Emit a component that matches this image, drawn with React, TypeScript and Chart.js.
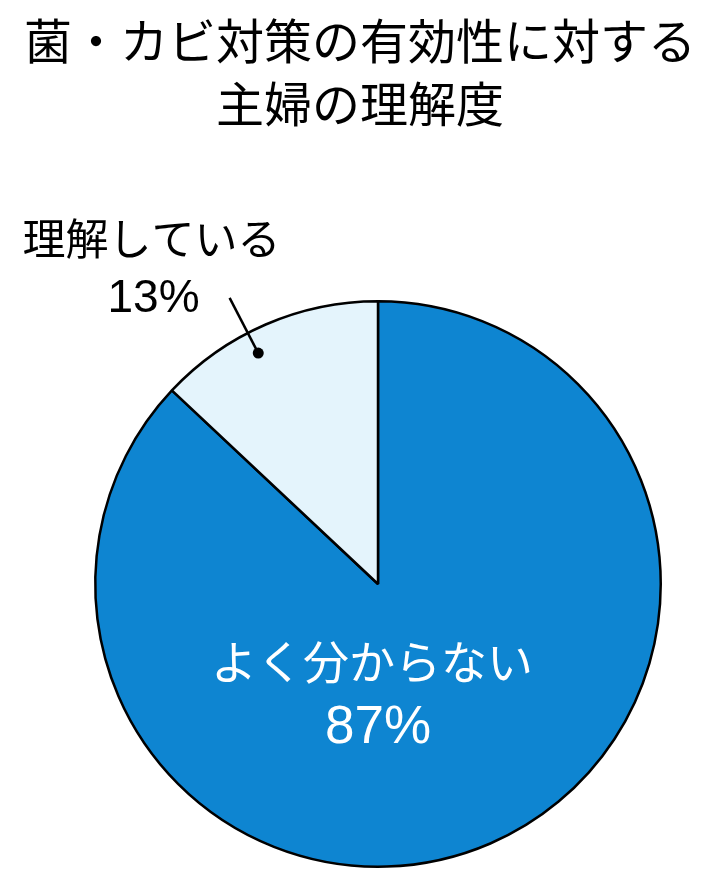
import { useEffect, useRef } from 'react';
import { Chart, registerables } from 'chart.js';

Chart.register(...registerables);

const TITLE_LINES = ['菌・カビ対策の有効性に対する', '主婦の理解度'];
const CATEGORIES = ['よく分からない', '理解している'];
const SHARES = [87, 13];

const C = {
  blue: '#0e85d1',
  pale: '#e4f4fc',
  ink: '#000000',
  white: '#ffffff'
};

const JP = '"Noto Sans CJK JP", sans-serif';
const NUM = '"Liberation Sans", Arial, sans-serif';

// title + slice labels drawn off the arc geometry
const labelPlugin = {
  id: 'pieLabels',
  afterDraw(chart: any) {
    const ctx = chart.ctx;
    const arcs = chart.getDatasetMeta(0).data;
    ctx.save();
    ctx.textAlign = 'center';
    ctx.textBaseline = 'middle';

    ctx.fillStyle = C.ink;
    ctx.font = `48px ${JP}`;
    TITLE_LINES.forEach((t, i) => ctx.fillText(t, chart.width / 2, 41 + i * 63));

    const big = arcs[0].getProps(['x', 'y', 'outerRadius'], true);
    ctx.fillStyle = C.white;
    ctx.font = `46px ${JP}`;
    ctx.fillText(CATEGORIES[0], big.x - 6, big.y + big.outerRadius * 0.275);
    ctx.font = `53px ${NUM}`;
    ctx.fillText(SHARES[0] + '%', big.x, big.y + big.outerRadius * 0.51);

    const sm = arcs[1].getProps(['x', 'y', 'startAngle', 'endAngle', 'outerRadius'], true);
    const a = (sm.startAngle + sm.endAngle) / 2 - 0.07;
    const r = sm.outerRadius;
    const dx = sm.x + Math.cos(a) * r * 0.92;
    const dy = sm.y + Math.sin(a) * r * 0.92;
    const lx = sm.x + Math.cos(a) * r * 1.14;
    const ly = sm.y + Math.sin(a) * r * 1.14;

    ctx.strokeStyle = C.ink;
    ctx.lineWidth = 2.5;
    ctx.beginPath();
    ctx.moveTo(lx, ly);
    ctx.lineTo(dx, dy);
    ctx.stroke();
    ctx.fillStyle = C.ink;
    ctx.beginPath();
    ctx.arc(dx, dy, 5.5, 0, Math.PI * 2);
    ctx.fill();

    ctx.font = `43px ${JP}`;
    ctx.fillText(CATEGORIES[1], lx - 78, ly - 59);
    ctx.textAlign = 'right';
    ctx.font = `46px ${NUM}`;
    ctx.fillText(SHARES[1] + '%', lx - 30, ly + 1);
    ctx.restore();
  }
};

export default function App() {
  const canvasRef = useRef<HTMLCanvasElement | null>(null);

  useEffect(() => {
    let chart: Chart | null = null;
    if (canvasRef.current) {
      chart = new Chart(canvasRef.current, {
        type: 'pie',
        data: {
          labels: CATEGORIES,
          datasets: [
            {
              data: SHARES,
              backgroundColor: [C.blue, C.pale],
              borderColor: C.ink,
              borderWidth: 2.5
            }
          ]
        },
        options: {
          responsive: true,
          maintainAspectRatio: false,
          animation: false,
          events: [],
          layout: {
            padding: { top: 300, left: 94, right: 58, bottom: 12 }
          },
          plugins: {
            legend: { display: false },
            tooltip: { enabled: false },
            title: { display: false }
          }
        },
        plugins: [labelPlugin]
      });
    }
    return () => {
      if (chart) chart.destroy();
    };
  }, []);

  return (
    <div style={{ position: 'absolute', left: 0, top: 0, width: '720px', height: '880px', background: '#fff' }}>
      <canvas ref={canvasRef}></canvas>
    </div>
  );
}
